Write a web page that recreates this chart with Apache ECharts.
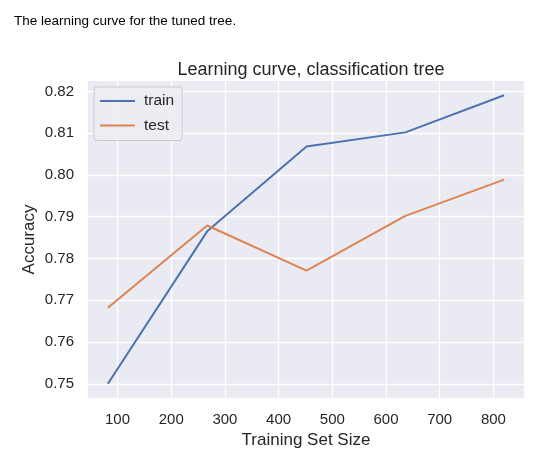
<!DOCTYPE html>
<html>
<head>
<meta charset="utf-8">
<script src="https://cdn.jsdelivr.net/npm/echarts@6/dist/echarts.min.js"></script>
<style>
  html, body { margin: 0; padding: 0; background: #fff; }
  #main { width: 555px; height: 467px; }
</style>
</head>
<body>
<div id="main"></div>
<script>
  // data
  var trainSizes = [82, 267, 452, 636, 820];
  var trainScores = [0.7500, 0.7865, 0.8068, 0.8102, 0.8191];
  var testScores = [0.7682, 0.7879, 0.7771, 0.7902, 0.7989];
  var xTicks = [100, 200, 300, 400, 500, 600, 700, 800];
  var yTicks = [0.75, 0.76, 0.77, 0.78, 0.79, 0.80, 0.81, 0.82];

  var font = '"Liberation Sans", Arial, sans-serif';
  var textColor = '#262626';

  var dom = document.getElementById('main');
  var myChart = echarts.init(dom, null, { renderer: 'canvas' });

  function pairs(xs, ys) {
    var out = [];
    for (var i = 0; i < xs.length; i++) out.push([xs[i], ys[i]]);
    return out;
  }

  var option = {
    animation: false,
    backgroundColor: '#ffffff',
    textStyle: { fontFamily: font },
    title: [
      {
        text: 'The learning curve for the tuned tree.',
        left: 9,
        top: 9,
        textStyle: { fontFamily: font, fontSize: 13.5, fontWeight: 'normal', color: '#000' }
      },
      {
        text: 'Learning curve, classification tree',
        left: 306,
        textAlign: 'center',
        top: 56,
        textStyle: { fontFamily: font, fontSize: 18, fontWeight: 'normal', color: textColor }
      }
    ],
    legend: {
      data: ['train', 'test'],
      orient: 'vertical',
      left: 94,
      top: 87,
      itemWidth: 35,
      itemHeight: 14,
      itemGap: 8.5,
      padding: [6, 8, 7, 5],
      backgroundColor: 'rgba(236,236,243,0.9)',
      borderColor: '#cccccc',
      borderWidth: 1,
      borderRadius: 3,
      itemStyle: { opacity: 0 },
      lineStyle: { width: 2 },
      textStyle: { fontFamily: font, fontSize: 15.5, color: textColor, padding: [0, 0, 0, 4] }
    },
    grid: {
      left: 88,
      right: 31,
      top: 81,
      bottom: 69,
      show: true,
      backgroundColor: '#EAEAF2',
      borderWidth: 0
    },
    xAxis: {
      type: 'value',
      min: 45,
      max: 857,
      name: 'Training Set Size',
      nameLocation: 'middle',
      nameGap: 32,
      nameTextStyle: { fontFamily: font, fontSize: 17, color: textColor },
      axisLine: { show: false },
      axisTick: { show: false, customValues: xTicks },
      axisLabel: { customValues: xTicks, margin: 14, fontFamily: font, fontSize: 15, color: textColor },
      splitLine: { show: true, lineStyle: { color: '#ffffff', width: 1.3 } }
    },
    yAxis: {
      type: 'value',
      min: 0.7466,
      max: 0.8225,
      name: 'Accuracy',
      nameLocation: 'middle',
      nameGap: 50,
      nameMoveOverlap: false,
      nameTextStyle: { fontFamily: font, fontSize: 17, color: textColor },
      axisLine: { show: false },
      axisTick: { show: false, customValues: yTicks },
      axisLabel: {
        customValues: yTicks,
        margin: 14,
        fontFamily: font,
        fontSize: 15,
        color: textColor,
        formatter: function (v) { return v.toFixed(2); }
      },
      splitLine: { show: true, lineStyle: { color: '#ffffff', width: 1.3 } }
    },
    series: [
      {
        name: 'train',
        type: 'line',
        data: pairs(trainSizes, trainScores),
        symbol: 'none',
        color: '#4C72B0',
        lineStyle: { width: 2, color: '#4C72B0' }
      },
      {
        name: 'test',
        type: 'line',
        data: pairs(trainSizes, testScores),
        symbol: 'none',
        color: '#DD8452',
        lineStyle: { width: 2, color: '#DD8452' }
      }
    ]
  };

  myChart.setOption(option);
</script>
</body>
</html>
